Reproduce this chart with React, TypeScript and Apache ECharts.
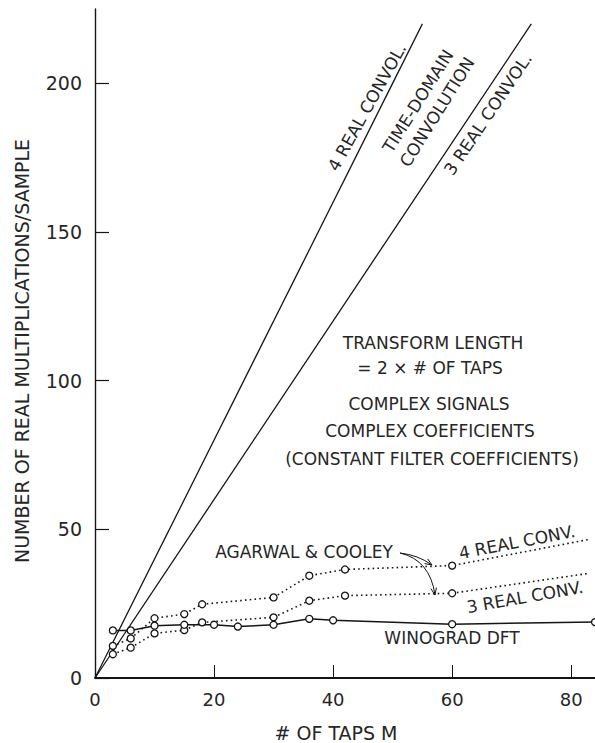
import React, { useEffect, useRef } from "react";
import * as echarts from "echarts";

// ---- data ----
const xTicks = [0, 20, 40, 60, 80];
const yTicks = [0, 50, 100, 150, 200];

// time-domain convolution straight lines (endpoints)
const conv4Taps = [0, 55];
const conv4Values = [0, 220];
const conv3Taps = [0, 73.3];
const conv3Values = [0, 220];

// Winograd DFT
const winoTaps = [3, 6, 10, 15, 20, 24, 30, 36, 40, 60, 84];
const winoValues = [16.0, 16.0, 17.6, 17.9, 17.9, 17.3, 17.9, 19.9, 19.4, 18.1, 18.8];

// Agarwal & Cooley, 4 real convolutions
const ac4Taps = [3, 6, 10, 15, 18, 30, 36, 42, 60, 83];
const ac4Values = [10.8, 13.3, 20.1, 21.5, 24.8, 27.1, 34.4, 36.5, 37.8, 46.6];

// Agarwal & Cooley, 3 real convolutions
const ac3Taps = [3, 6, 10, 15, 18, 30, 36, 42, 60, 83];
const ac3Values = [8.0, 10.2, 15.0, 16.1, 18.7, 20.4, 26.0, 27.7, 28.5, 35.2];

const INK = "#151515";
const TEXT = "#262626";
const FONT = "DejaVu Sans";

function pairs(xs: number[], ys: number[], lastBare = false) {
  return xs.map((x, i) => {
    const item: any = { value: [x, ys[i]] };
    if (lastBare && i === xs.length - 1) item.symbol = "none";
    return item;
  });
}

function txt(text: string, x: number, y: number, size: number, rotDeg = 0) {
  return {
    type: "text",
    x,
    y,
    rotation: (rotDeg * Math.PI) / 180,
    style: {
      text,
      fill: TEXT,
      font: `${size}px "${FONT}"`,
      align: "center",
      verticalAlign: "middle",
    },
    silent: true,
  };
}

function arrowHead(tx: number, ty: number, fx: number, fy: number) {
  const dx = tx - fx;
  const dy = ty - fy;
  const l = Math.hypot(dx, dy);
  const ux = dx / l;
  const uy = dy / l;
  const bx = tx - 7 * ux;
  const by = ty - 7 * uy;
  const px = -uy;
  const py = ux;
  return {
    type: "polyline",
    shape: {
      points: [
        [bx + 2.8 * px, by + 2.8 * py],
        [tx, ty],
        [bx - 2.8 * px, by - 2.8 * py],
      ],
    },
    style: { stroke: INK, lineWidth: 1, fill: null },
    silent: true,
  };
}

export default function App() {
  const ref = useRef<HTMLDivElement>(null);

  useEffect(() => {
    if (!ref.current) return;
    const chart = echarts.init(ref.current, null, { renderer: "svg" });

    const dotted = { color: INK, width: 1.6, type: [1.6, 3.2] as any, cap: "butt" as any };
    const circle = {
      symbol: "circle",
      symbolSize: 7,
      itemStyle: { color: "#fff", borderColor: INK, borderWidth: 1.3 },
    };

    chart.setOption({
      animation: false,
      backgroundColor: "#fff",
      grid: { left: 95, right: 0, top: 9, bottom: 65, containLabel: false },
      xAxis: {
        type: "value",
        min: 0,
        max: 84,
        splitLine: { show: false },
        axisLine: { show: true, lineStyle: { color: INK, width: 1.8 } },
        axisTick: {
          show: true,
          inside: true,
          length: 13,
          customValues: xTicks,
          lineStyle: { color: INK, width: 1 },
        },
        axisLabel: {
          customValues: xTicks,
          margin: 12,
          fontSize: 18,
          fontFamily: FONT,
          color: TEXT,
        },
      },
      yAxis: {
        type: "value",
        min: 0,
        max: 225,
        splitLine: { show: false },
        axisLine: { show: true, lineStyle: { color: INK, width: 1.4 } },
        axisTick: {
          show: true,
          inside: true,
          length: 14,
          customValues: yTicks,
          lineStyle: { color: INK, width: 1.2 },
        },
        axisLabel: {
          customValues: yTicks,
          margin: 13,
          fontSize: 19,
          fontFamily: FONT,
          color: TEXT,
        },
      },
      series: [
        {
          type: "line",
          name: "4 REAL CONVOL.",
          data: pairs(conv4Taps, conv4Values),
          symbol: "none",
          lineStyle: { color: INK, width: 1.3 },
        },
        {
          type: "line",
          name: "3 REAL CONVOL.",
          data: pairs(conv3Taps, conv3Values),
          symbol: "none",
          lineStyle: { color: INK, width: 1.3 },
        },
        {
          type: "line",
          name: "AGARWAL & COOLEY 4 REAL CONV.",
          data: pairs(ac4Taps, ac4Values, true),
          lineStyle: dotted,
          ...circle,
        },
        {
          type: "line",
          name: "AGARWAL & COOLEY 3 REAL CONV.",
          data: pairs(ac3Taps, ac3Values, true),
          lineStyle: dotted,
          ...circle,
        },
        {
          type: "line",
          name: "WINOGRAD DFT",
          data: pairs(winoTaps, winoValues),
          lineStyle: { color: INK, width: 1.5 },
          ...circle,
        },
      ],
      graphic: [
        txt("NUMBER OF REAL MULTIPLICATIONS/SAMPLE", 22, 351, 19, 90),
        txt("# OF TAPS M", 336, 733, 19),
        txt("4 REAL CONVOL.", 367, 107, 17, 61),
        txt("TIME-DOMAIN", 418, 101, 17, 58),
        txt("CONVOLUTION", 437, 112, 17, 58),
        txt("3 REAL CONVOL.", 488, 114, 17, 56),
        txt("TRANSFORM LENGTH", 433, 343, 17),
        txt("= 2 × # OF TAPS", 430, 368, 17),
        txt("COMPLEX SIGNALS", 429, 404, 17),
        txt("COMPLEX COEFFICIENTS", 430, 431, 17),
        txt("(CONSTANT FILTER COEFFICIENTS)", 432, 459, 17),
        txt("AGARWAL & COOLEY", 304, 552, 17),
        txt("4 REAL CONV.", 517, 542, 17, 11),
        txt("3 REAL CONV.", 525, 597, 17, 10),
        txt("WINOGRAD DFT", 452, 638, 17),
        {
          type: "bezierCurve",
          shape: { x1: 400, y1: 553, x2: 432, y2: 565, cpx1: 418, cpy1: 555 },
          style: { stroke: INK, lineWidth: 1, fill: null },
          silent: true,
        },
        arrowHead(432, 565, 418, 556),
        {
          type: "bezierCurve",
          shape: { x1: 400, y1: 553, x2: 435, y2: 595, cpx1: 430, cpy1: 560 },
          style: { stroke: INK, lineWidth: 1, fill: null },
          silent: true,
        },
        arrowHead(435, 595, 430, 570),
      ],
    });

    return () => chart.dispose();
  }, []);

  return (
    <div
      ref={ref}
      style={{ position: "absolute", left: 0, top: 0, width: 595, height: 743 }}
    />
  );
}
